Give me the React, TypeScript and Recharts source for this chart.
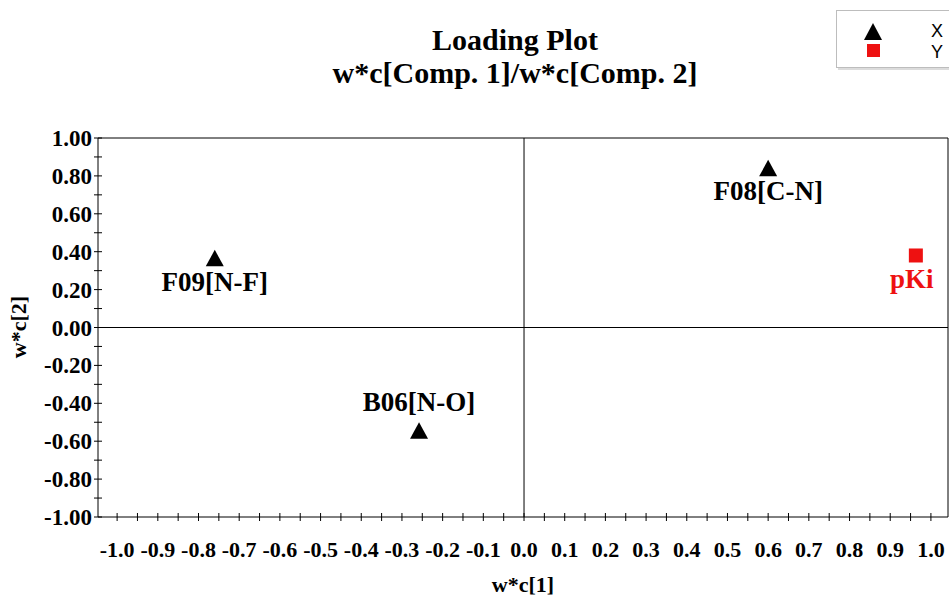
import React from 'react';
import { ScatterChart, Scatter, XAxis, YAxis, ReferenceLine, LabelList } from 'recharts';

const xSeriesNames = ['F08[C-N]', 'F09[N-F]', 'B06[N-O]'];
const xSeriesX = [0.6, -0.76, -0.258];
const xSeriesY = [0.84, 0.365, -0.545];

const ySeriesNames = ['pKi'];
const ySeriesX = [0.963];
const ySeriesY = [0.38];

const xTicks = [
  -1.0, -0.95, -0.9, -0.85, -0.8, -0.75, -0.7, -0.65, -0.6, -0.55, -0.5, -0.45, -0.4, -0.35, -0.3, -0.25,
  -0.2, -0.15, -0.1, -0.05, 0.0, 0.05, 0.1, 0.15, 0.2, 0.25, 0.3, 0.35, 0.4, 0.45, 0.5, 0.55, 0.6, 0.65,
  0.7, 0.75, 0.8, 0.85, 0.9, 0.95, 1.0,
];
const xTickLabels = ['-1.0', '-0.9', '-0.8', '-0.7', '-0.6', '-0.5', '-0.4', '-0.3', '-0.2', '-0.1', '0.0', '0.1', '0.2', '0.3', '0.4', '0.5', '0.6', '0.7', '0.8', '0.9', '1.0'];
const yTicks = [-1.0, -0.9, -0.8, -0.7, -0.6, -0.5, -0.4, -0.3, -0.2, -0.1, 0.0, 0.1, 0.2, 0.3, 0.4, 0.5, 0.6, 0.7, 0.8, 0.9, 1.0];
const yTickLabels = ['-1.00', '-0.80', '-0.60', '-0.40', '-0.20', '0.00', '0.20', '0.40', '0.60', '0.80', '1.00'];

const title1 = 'Loading Plot';
const title2 = 'w*c[Comp. 1]/w*c[Comp. 2]';
const xTitle = 'w*c[1]';
const yTitle = 'w*c[2]';

const xData = xSeriesNames.map((n, i) => ({ name: n, x: xSeriesX[i], y: xSeriesY[i] }));
const yData = ySeriesNames.map((n, i) => ({ name: n, x: ySeriesX[i], y: ySeriesY[i] }));

const SERIF = '"Liberation Serif", "Times New Roman", serif';
const SANS = '"Liberation Sans", Arial, sans-serif';
const RED = '#ee1111';

const fmtX = (v: number) => (Math.abs(v) < 1e-9 ? '0.0' : v.toFixed(1));
const fmtY = (v: number) => (Math.abs(v) < 1e-9 ? '0.00' : v.toFixed(2));

const XTick = (props: any) => {
  const { x, y, payload } = props;
  const v = payload.value;
  const lbl = fmtX(v);
  const major = xTickLabels.includes(lbl) && Math.abs(Math.round(v * 10) - v * 10) < 1e-6;
  return (
    <g>
      <line x1={x} x2={x} y1={y - 4} y2={y + 4} stroke="#000" strokeWidth={1} />
      {major && (
        <text x={x} y={y + 40} textAnchor="middle" fontFamily={SERIF} fontWeight="bold" fontSize={22} fill="#000">
          {lbl}
        </text>
      )}
    </g>
  );
};

const YTick = (props: any) => {
  const { x, y, payload } = props;
  const v = payload.value;
  const lbl = fmtY(v);
  const major = yTickLabels.includes(lbl) && Math.abs(Math.round(v * 5) - v * 5) < 1e-6;
  return (
    <g>
      <line x1={x - 4} x2={x + 4} y1={y} y2={y} stroke="#000" strokeWidth={1} />
      {major && (
        <text x={x - 6} y={y + 8} textAnchor="end" fontFamily={SERIF} fontWeight="bold" fontSize={23} fill="#000">
          {lbl}
        </text>
      )}
    </g>
  );
};

const Triangle = (props: any) => {
  const { cx, cy } = props;
  if (cx == null || cy == null) return null;
  return <path d={`M${cx},${cy - 8.5} L${cx + 9},${cy + 8} L${cx - 9},${cy + 8} Z`} fill="#000" />;
};

const Square = (props: any) => {
  const { cx, cy } = props;
  if (cx == null || cy == null) return null;
  return <rect x={cx - 7} y={cy - 7} width={14} height={14} fill={RED} />;
};

// label placement relative to the marker (style, not data)
const labelPlacement: Record<string, { dx: number; dy: number }> = {
  'F08[C-N]': { dx: 0, dy: 32 },
  'F09[N-F]': { dx: 0, dy: 33 },
  'B06[N-O]': { dx: 0, dy: -20 },
  pKi: { dx: -4, dy: 33 },
};

const makeLabel = (color: string) => (props: any) => {
  const { x, y, width, height, value } = props;
  const cx = x + (width || 0) / 2;
  const cy = y + (height || 0) / 2;
  const p = labelPlacement[value] || { dx: 0, dy: 30 };
  return (
    <text x={cx + p.dx} y={cy + p.dy} textAnchor="middle" fontFamily={SERIF} fontWeight="bold" fontSize={27} fill={color}>
      {value}
    </text>
  );
};

export default function App() {
  return (
    <div style={{ position: 'absolute', left: 0, top: 0, width: 949, height: 596, background: '#fff', overflow: 'hidden' }}>
      <ScatterChart width={949} height={596} margin={{ top: 138, right: 1, bottom: 0, left: 0 }}>
        <XAxis
          type="number"
          dataKey="x"
          domain={[-1.047, 1.042]}
          allowDataOverflow
          ticks={xTicks}
          interval={0}
          tick={<XTick />}
          tickLine={false}
          tickSize={0}
          tickMargin={0}
          height={79}
          axisLine={{ stroke: '#000', strokeWidth: 1 }}
          label={{ value: xTitle, position: 'insideBottom', offset: 4, fontFamily: SERIF, fontWeight: 'bold', fontSize: 22, fill: '#000' }}
        />
        <YAxis
          type="number"
          dataKey="y"
          domain={[-1, 1]}
          allowDataOverflow
          ticks={yTicks}
          interval={0}
          tick={<YTick />}
          tickLine={false}
          tickSize={0}
          tickMargin={0}
          width={98}
          axisLine={{ stroke: '#000', strokeWidth: 1 }}
        />
        <ReferenceLine y={1} stroke="#000" strokeWidth={1} />
        <ReferenceLine x={1.042} stroke="#000" strokeWidth={1} />
        <ReferenceLine x={0} stroke="#000" strokeWidth={1} />
        <ReferenceLine y={0} stroke="#000" strokeWidth={1} />
        <Scatter name="X" data={xData} shape={<Triangle />} isAnimationActive={false}>
          <LabelList dataKey="name" content={makeLabel('#000')} />
        </Scatter>
        <Scatter name="Y" data={yData} shape={<Square />} isAnimationActive={false}>
          <LabelList dataKey="name" content={makeLabel(RED)} />
        </Scatter>
      </ScatterChart>
      <svg width={949} height={596} style={{ position: 'absolute', left: 0, top: 0, pointerEvents: 'none' }}>
        <text x={515} y={50} textAnchor="middle" fontFamily={SERIF} fontWeight="bold" fontSize={30} fill="#000">
          {title1}
        </text>
        <text x={515} y={83} textAnchor="middle" fontFamily={SERIF} fontWeight="bold" fontSize={30} fill="#000">
          {title2}
        </text>
        <text
          x={0}
          y={0}
          transform="translate(26,327) rotate(-90)"
          textAnchor="middle"
          fontFamily={SERIF}
          fontWeight="bold"
          fontSize={22}
          fill="#000"
        >
          {yTitle}
        </text>
        <rect x={836.5} y={10.5} width={120} height={57} fill="#fff" stroke="#bdbdbd" strokeWidth={1} />
        <line x1={838} x2={949} y1={69} y2={69} stroke="#dcdcdc" strokeWidth={2} />
        <path d="M873,23 L882,40 L864,40 Z" fill="#000" />
        <rect x={867} y={44} width={13} height={13} fill={RED} />
        <text x={937} y={37} textAnchor="middle" fontFamily={SANS} fontSize={18} fill="#000">X</text>
        <text x={937} y={58} textAnchor="middle" fontFamily={SANS} fontSize={18} fill="#000">Y</text>
      </svg>
    </div>
  );
}
